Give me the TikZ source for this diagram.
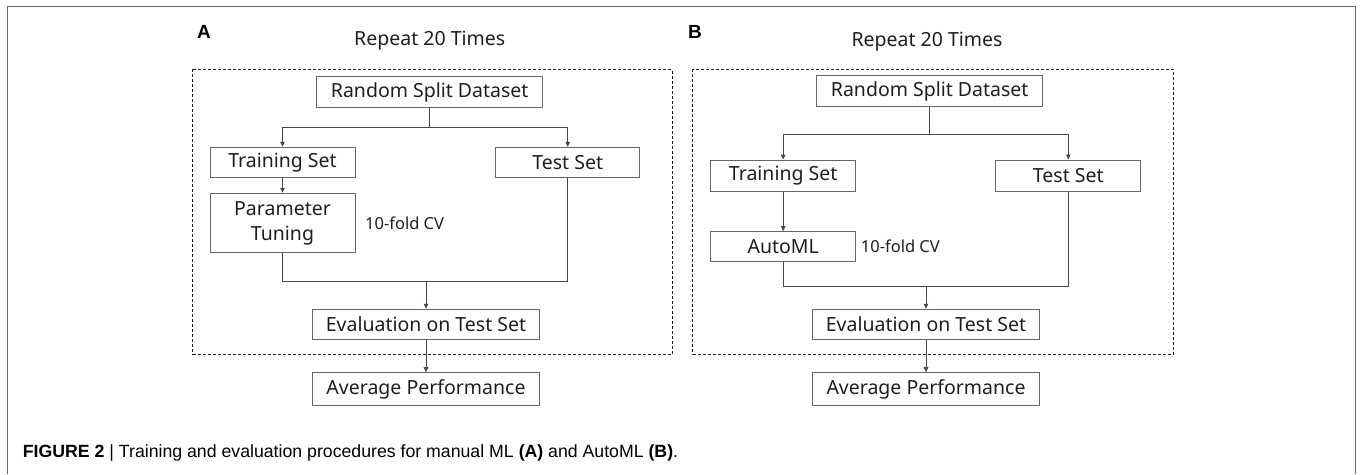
\documentclass[tikz,border=0pt]{standalone}
\usepackage{fontspec}
\setmainfont{Liberation Sans}
\newfontfamily\df{Noto Sans}
\usetikzlibrary{arrows.meta}
\definecolor{boxc}{HTML}{666666}
\definecolor{linec}{HTML}{484848}
\definecolor{txtc}{HTML}{1E1E1E}
\definecolor{framec}{HTML}{6A6A6A}
\tikzset{
  box/.style={draw=boxc, line width=1pt, inner sep=0pt, text=txtc,
    font=\df\fontsize{19.5}{25}\selectfont, align=center},
  conn/.style={draw=linec, line width=1pt},
  arr/.style={conn, -{Triangle[length=5pt,width=4.5pt]}},
  dbox/.style={draw=txtc, line width=1pt, dash pattern=on 3pt off 2pt},
  cvlbl/.style={inner sep=0pt, anchor=west, text=txtc, font=\df\fontsize{16.5}{18}\selectfont},
  title/.style={inner sep=0pt, anchor=base, text=txtc, font=\df\fontsize{19.5}{24}\selectfont},
  panel/.style={inner sep=0pt, anchor=base west, text=black, font=\bfseries\fontsize{19}{22}\selectfont},
}
\begin{document}
\begin{tikzpicture}[x=1pt, y=-1pt]
\useasboundingbox (0,0) rectangle (1360,474);
% outer frame
\draw[framec, line width=1.2pt] (7.5,474) -- (7.5,6.5) -- (1355.7,6.5) -- (1355.7,474);

% ---------- Panel A ----------
\node[panel] (labA) at (197,38) {A};
\node[title] (titA) at (429.7,45.5) {Repeat 20 Times};
\draw[dbox] (192.7,69.3) rectangle (672,354.3);
\node[box, minimum width=226pt, minimum height=30.6pt] (rsA) at (429.7,92) {Random Split Dataset};
\node[box, minimum width=145pt, minimum height=30pt] (trA) at (282.5,162.3) {Training Set};
\node[box, minimum width=144pt, minimum height=30pt] (tsA) at (567.7,162.3) {Test Set};
\node[box, minimum width=145pt, minimum height=59.4pt] (ptA) at (282.5,223) {Parameter\\Tuning};
\node[cvlbl] (cvA) at (365,223.3) {10-fold CV};
\node[box, minimum width=226.6pt, minimum height=30pt] (evA) at (426,324.3) {Evaluation on Test Set};
\node[box, minimum width=226.6pt, minimum height=33pt] (avA) at (426,389.2) {Average Performance};
\coordinate (sA) at (429.7,127.3);
\coordinate (mA) at (426,281);
\draw[conn] (rsA.south) -- (sA);
\draw[arr] (sA) -| (trA.north);
\draw[arr] (sA) -| (tsA.north);
\draw[arr] (trA.south) -- (ptA.north);
\draw[conn] (ptA.south) |- (mA);
\draw[conn] (tsA.south) |- (mA);
\draw[arr] (mA) -- (evA.north);
\draw[arr] (evA.south) -- (avA.north);

% ---------- Panel B ----------
\node[panel] (labB) at (688,38) {B};
\node[title] (titB) at (927,46.3) {Repeat 20 Times};
\draw[dbox] (692.7,69.3) rectangle (1173.5,354.3);
\node[box, minimum width=226pt, minimum height=30.7pt] (rsB) at (929.7,91.3) {Random Split Dataset};
\node[box, minimum width=145pt, minimum height=31pt] (trB) at (783.2,175.5) {Training Set};
\node[box, minimum width=145pt, minimum height=31pt] (tsB) at (1068.3,175.5) {Test Set};
\node[box, minimum width=145pt, minimum height=30pt] (amB) at (783.2,246.7) {AutoML};
\node[cvlbl] (cvB) at (860.7,246) {10-fold CV};
\node[box, minimum width=226.6pt, minimum height=30pt] (evB) at (926,324.3) {Evaluation on Test Set};
\node[box, minimum width=226.6pt, minimum height=33pt] (avB) at (926,389.2) {Average Performance};
\coordinate (sB) at (929.7,134.7);
\coordinate (mB) at (926,286.7);
\draw[conn] (rsB.south) -- (sB);
\draw[arr] (sB) -| (trB.north);
\draw[arr] (sB) -| (tsB.north);
\draw[arr] (trB.south) -- (amB.north);
\draw[conn] (amB.south) |- (mB);
\draw[conn] (tsB.south) |- (mB);
\draw[arr] (mB) -- (evB.north);
\draw[arr] (evB.south) -- (avB.north);

% ---------- Caption ----------
\node[inner sep=0pt, anchor=base west, text=black, font=\fontsize{17.7}{20}\selectfont] (cap) at (22.7,457)
  {\textbf{FIGURE 2} | Training and evaluation procedures for manual ML \textbf{(A)} and AutoML \textbf{(B)}.};
\end{tikzpicture}
\end{document}
